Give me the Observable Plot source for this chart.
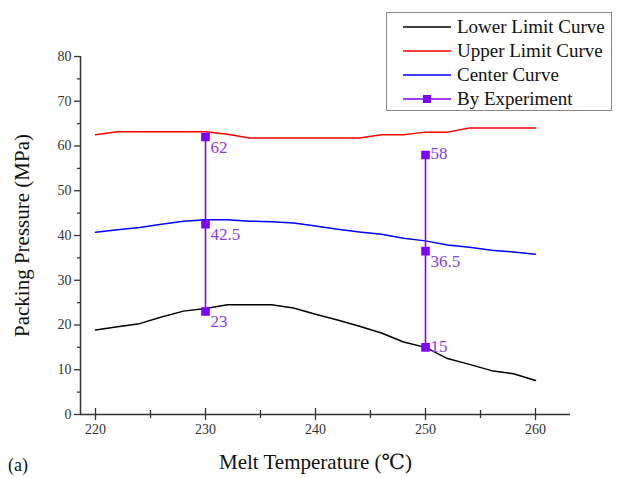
<!DOCTYPE html>
<html>
<head>
<meta charset="utf-8">
<script src="https://cdn.jsdelivr.net/npm/d3@7"></script>
<script src="https://cdn.jsdelivr.net/npm/@observablehq/plot@0.6"></script>
<style>
  html, body { margin: 0; padding: 0; background: #fff; overflow: hidden; }
  #wrap { position: relative; width: 618px; height: 478px; font-family: "Liberation Serif", "Tinos", "Times New Roman", "DejaVu Serif", serif; }
  #wrap svg text, #wrap svg { font-family: "Liberation Serif", "Tinos", "Times New Roman", "DejaVu Serif", serif !important; }
  #legend { position: absolute; left: 386px; top: 12px; width: 226px; height: 99px; border: 1px solid #888; background: #fff; box-sizing: border-box; }
  .row { position: absolute; left: 0; height: 24px; display: flex; align-items: center; font-size: 19px; color: #111; }
  .row svg { margin-left: 16px; margin-right: 6px; }
  #tag { position: absolute; left: 8px; top: 455px; font-size: 18px; color: #111; }
</style>
</head>
<body>
<div id="wrap"></div>
<script>
const temps = [220,222,224,226,228,230,232,234,236,238,240,242,244,246,248,250,252,254,256,258,260];
const lowerVals  = [18.9,19.6,20.3,21.8,23.1,23.7,24.5,24.5,24.5,23.8,22.4,21.1,19.7,18.2,16.2,15.0,12.5,11.2,9.8,9.1,7.6];
const upperVals  = [62.5,63.2,63.2,63.2,63.2,63.2,62.6,61.8,61.8,61.8,61.8,61.8,61.8,62.5,62.5,63.1,63.1,64.0,64.0,64.0,64.0];
const centerVals = [40.7,41.3,41.8,42.5,43.2,43.5,43.5,43.2,43.1,42.8,42.1,41.4,40.8,40.3,39.4,38.8,37.9,37.4,36.7,36.3,35.8];
const expTemps = [230,230,230,250,250,250];
const expVals  = [62,42.5,23,58,36.5,15];
const expLabels = ["62","42.5","23","58","36.5","15"];
const xTicks = [220,230,240,250,260];
const xMinor = [225,235,245,255];
const yTicks = [0,10,20,30,40,50,60,70,80];
const yMinor = [5,15,25,35,45,55,65,75];
const seriesNames = ["Lower Limit Curve","Upper Limit Curve","Center Curve","By Experiment"];
const colors = ["#000000","#ff0000","#0000ff","#7f00ff"];

const lower = temps.map((t,i)=>({t, v: lowerVals[i]}));
const upper = temps.map((t,i)=>({t, v: upperVals[i]}));
const center = temps.map((t,i)=>({t, v: centerVals[i]}));
const exp = expTemps.map((t,i)=>({t, v: expVals[i], label: expLabels[i], i}));
const groups = d3.groups(exp, d=>d.t).map(([t, a])=>({t, lo: d3.min(a,d=>d.v), hi: d3.max(a,d=>d.v)}));

const purple = colors[3];
const labelColor = "#8a3ce6";
const axisColor = "#333";
const fontFam = "'Liberation Serif', 'Tinos', 'Times New Roman', 'DejaVu Serif', serif";

const chart = Plot.plot({
  width: 618, height: 478,
  marginLeft: 80, marginRight: 48, marginTop: 56, marginBottom: 64,
  style: {fontFamily: fontFam, fontSize: "14px", color: axisColor, background: "#fff"},
  x: {domain: [218.636, 263.182], label: null},
  y: {domain: [0, 80], label: null},
  marks: [
    Plot.axisX({ticks: xTicks, tickSize: 6, tickPadding: 4, tickFormat: d=>String(d), stroke: axisColor, strokeWidth: 1.3, fontSize: 14, label: null}),
    Plot.axisX({ticks: xTicks, tickSize: -6, text: null, stroke: axisColor, strokeWidth: 1.3, label: null}),
    Plot.axisX({ticks: xMinor, tickSize: 4, text: null, stroke: axisColor, strokeWidth: 1.3, label: null}),
    Plot.axisX({ticks: xMinor, tickSize: -4, text: null, stroke: axisColor, strokeWidth: 1.3, label: null}),
    Plot.axisY({ticks: yTicks, tickSize: 6, tickPadding: 3, tickFormat: d=>String(d), stroke: axisColor, strokeWidth: 1.3, fontSize: 14, label: null}),
    Plot.axisY({ticks: yMinor, tickSize: 3, text: null, stroke: axisColor, strokeWidth: 1.3, label: null}),
    Plot.ruleX([218.636], {stroke: axisColor, strokeWidth: 1.5}),
    Plot.ruleY([0], {stroke: axisColor, strokeWidth: 1.5}),
    Plot.line(lower, {x: "t", y: "v", stroke: colors[0], strokeWidth: 1.5}),
    Plot.line(upper, {x: "t", y: "v", stroke: colors[1], strokeWidth: 1.5}),
    Plot.line(center, {x: "t", y: "v", stroke: colors[2], strokeWidth: 1.5}),
    Plot.ruleX(groups, {x: "t", y1: "lo", y2: "hi", stroke: purple, strokeWidth: 1.6}),
    Plot.dot(exp, {x: "t", y: "v", symbol: "square", r: 4, fill: purple, stroke: purple}),
    Plot.text(exp.filter(d=>d.i < 3 || d.i === 4), {x: "t", y: "v", text: "label", textAnchor: "start", dx: 5, dy: 10, fill: labelColor, fontSize: 17, fontFamily: fontFam}),
    Plot.text(exp.filter(d=>d.i === 3 || d.i === 5), {x: "t", y: "v", text: "label", textAnchor: "start", dx: 5, dy: -1, fill: labelColor, fontSize: 17, fontFamily: fontFam}),
    Plot.text(["Packing Pressure (MPa)"], {frameAnchor: "left", textAnchor: "middle", dx: -58, rotate: -90, fontSize: 21, fill: "#111", fontFamily: fontFam}),
    Plot.text(["Melt Temperature (℃)"], {frameAnchor: "bottom", dy: 54, dx: -10, fontSize: 21, fill: "#111", fontFamily: fontFam})
  ]
});
const wrap = document.getElementById("wrap");
wrap.appendChild(chart);

// legend
const legend = document.createElement("div");
legend.id = "legend";
seriesNames.forEach((name, i) => {
  const row = document.createElement("div");
  row.className = "row";
  row.style.top = (2 + i * 24) + "px";
  const sw = d3.create("svg").attr("width", 48).attr("height", 12);
  sw.append("line").attr("x1", 0).attr("x2", 48).attr("y1", 6).attr("y2", 6).attr("stroke", colors[i]).attr("stroke-width", 1.6);
  if (i === 3) sw.append("rect").attr("x", 20).attr("y", 2).attr("width", 8).attr("height", 8).attr("fill", colors[i]);
  row.appendChild(sw.node());
  const span = document.createElement("span");
  span.textContent = name;
  row.appendChild(span);
  legend.appendChild(row);
});
wrap.appendChild(legend);
const tag = document.createElement("div");
tag.id = "tag";
tag.textContent = "(a)";
wrap.appendChild(tag);
</script>
</body>
</html>
